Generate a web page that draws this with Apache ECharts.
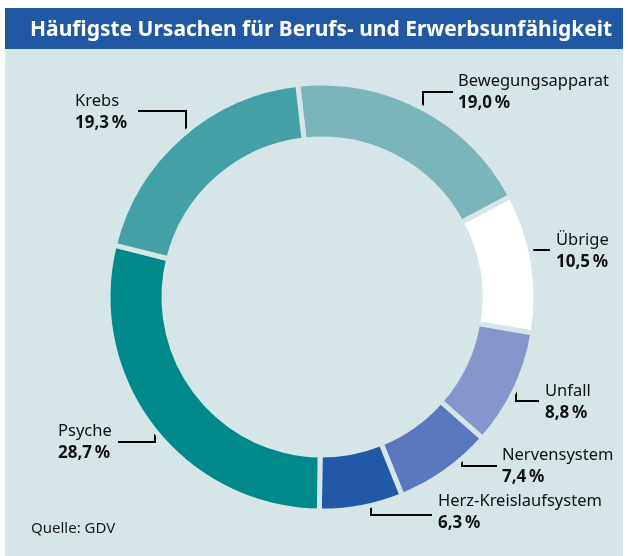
<!DOCTYPE html>
<html>
<head>
<meta charset="utf-8">
<script src="https://cdn.jsdelivr.net/npm/echarts@6/dist/echarts.min.js"></script>
<style>
  html, body { margin: 0; padding: 0; background: #fff; }
  #chart { width: 628px; height: 556px; }
</style>
</head>
<body>
<div id="chart"></div>
<script>
// Daten (Anteile in %)
var ursachen = ['Bewegungsapparat', 'Übrige', 'Unfall', 'Nervensystem', 'Herz-Kreislaufsystem', 'Psyche', 'Krebs']
var anteile = [19.0, 10.5, 8.8, 7.4, 6.3, 28.7, 19.3]
var farben = ['#7ab5ba', '#ffffff', '#8696cc', '#5a78bd', '#2259a7', '#00898b', '#43a0a5']

// Beschriftungen: Position der Textbox und Knick der Hinweislinie
var labelPos = [
  { x: 458, y: 70, line: [[423, 112], [423, 92], [453, 92]] },
  { x: 556, y: 229, line: [[530, 250], [540, 250], [550, 250]] },
  { x: 545, y: 380, line: [[516, 384], [516, 401], [539, 401]] },
  { x: 502, y: 444, line: [[462, 454], [462, 466], [497, 466]] },
  { x: 438, y: 490, line: [[371, 500], [371, 515], [432, 515]] },
  { x: 58, y: 420, line: [[155, 424], [155, 442], [118, 442]] },
  { x: 75, y: 90, line: [[186, 137], [186, 111], [138, 111]] }
]

var bg = '#d5e5e8'
var myChart = echarts.init(document.getElementById('chart'))

var pieData = ursachen.map(function (name, i) {
  return { name: name, value: anteile[i], itemStyle: { color: farben[i] } }
})

var option = {
  backgroundColor: '#ffffff',
  animation: false,
  textStyle: { fontFamily: 'Noto Sans' },
  graphic: [
    { type: 'rect', z: -10, shape: { x: 5, y: 49, width: 618, height: 507 }, style: { fill: bg } },
    { type: 'rect', z: -10, shape: { x: 5, y: 8, width: 618, height: 41 }, style: { fill: '#2158a4' } },
    {
      type: 'text', left: 31, top: 521,
      style: { text: 'Quelle: GDV', fill: '#1a1a1a', font: '15px "Noto Sans"' }
    }
  ],
  title: {
    text: 'Häufigste Ursachen für Berufs- und Erwerbsunfähigkeit',
    left: 25,
    top: 15,
    textStyle: { color: '#fff', fontSize: 21, fontWeight: 'bold', fontFamily: 'Noto Sans' }
  },
  series: [{
    type: 'pie',
    center: [322, 297],
    radius: [158, 214],
    startAngle: 96.5,
    clockwise: true,
    avoidLabelOverlap: false,
    itemStyle: { borderColor: bg, borderWidth: 5 },
    emphasis: { disabled: true },
    label: {
      show: true,
      position: 'outside',
      formatter: function (p) {
        var v = p.value.toFixed(1).replace('.', ',')
        return '{n|' + p.name + '}\n{v|' + v + '\u2009%}'
      },
      rich: {
        n: { fontSize: 16.5, color: '#111', lineHeight: 22, fontFamily: 'Noto Sans' },
        v: { fontSize: 17, fontWeight: 'bold', color: '#111', lineHeight: 23, fontFamily: 'Noto Sans' }
      }
    },
    labelLine: { show: true, lineStyle: { color: '#000', width: 2 } },
    labelLayout: function (params) {
      var p = labelPos[params.dataIndex]
      return {
        x: p.x,
        y: p.y,
        align: 'left',
        verticalAlign: 'top',
        labelLinePoints: p.line
      }
    },
    data: pieData
  }]
}
myChart.setOption(option)
</script>
</body>
</html>
